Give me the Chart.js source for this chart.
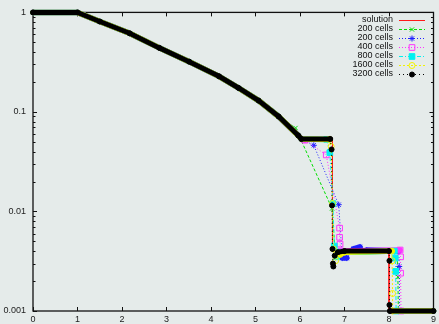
<!DOCTYPE html>
<html><head><meta charset="utf-8">
<script src="https://cdn.jsdelivr.net/npm/chart.js@4/dist/chart.umd.min.js"></script>
<style>html,body{margin:0;padding:0;background:#e5ebea;}canvas{display:block;}</style>
</head><body>
<canvas id="c" width="439" height="324"></canvas>
<script>
// Shared rarefaction part
const curveX = [0, 1.0, 1.5, 2.17, 2.84, 3.51, 4.18, 4.62, 5.07, 5.52, 5.96, 6.03];
const curveY = [1, 1, 0.81, 0.617, 0.44, 0.32, 0.228, 0.174, 0.13, 0.09, 0.058, 0.0535];

const solutionX = [6.73, 6.73, 8.0, 8.0, 9];
const solutionY = [0.0535, 0.0040, 0.0040, 0.001, 0.001];
const cells200aX = [5.90, 6.72, 6.78, 6.85, 7.0, 8.18, 8.2, 8.21, 9];
const cells200aY = [0.069, 0.0107, 0.0045, 0.0037, 0.0039, 0.0040, 0.0022, 0.001, 0.001];
const cells200bX = [6.31, 6.87, 6.95, 7.05, 7.2, 7.35, 7.5, 8.22, 8.23, 8.24, 9];
const cells200bY = [0.0462, 0.0117, 0.0034, 0.0034, 0.0042, 0.0044, 0.0041, 0.0040, 0.0028, 0.001, 0.001];
const cells400X = [6.11, 6.59, 6.89, 6.89, 6.9, 6.93, 8.25, 8.26, 8.26, 8.27, 9];
const cells400Y = [0.052, 0.037, 0.0068, 0.0055, 0.0047, 0.0040, 0.0041, 0.0035, 0.0024, 0.001, 0.001];
const cells800X = [6.6, 6.67, 6.74, 6.77, 6.82, 6.9, 8.12, 8.14, 8.15, 8.16, 9];
const cells800Y = [0.053, 0.039, 0.012, 0.0045, 0.0035, 0.0039, 0.0040, 0.0034, 0.0025, 0.001, 0.001];
const cells1600X = [6.66, 6.7, 6.73, 6.75, 6.8, 6.9, 7.0, 8.06, 8.07, 8.08, 8.08, 9];
const cells1600Y = [0.053, 0.045, 0.012, 0.0042, 0.0032, 0.0037, 0.0039, 0.0040, 0.0032, 0.0015, 0.001, 0.001];
const cells3200X = [6.68, 6.71, 6.72, 6.73, 6.74, 6.75, 6.78, 6.85, 7.0, 8.0, 8.01, 8.01, 8.02, 9];
const cells3200Y = [0.0535, 0.042, 0.0115, 0.0042, 0.0030, 0.0028, 0.0036, 0.0039, 0.0040, 0.0040, 0.0032, 0.00115, 0.001, 0.001];

const xTicks = [0, 1, 2, 3, 4, 5, 6, 7, 8, 9];
const yTicks = [0.001, 0.01, 0.1, 1];
const yTickLabels = ['0.001', '0.01', '0.1', '1'];
const seriesLabels = ['solution', '200 cells', '200 cells', '400 cells', '800 cells', '1600 cells', '3200 cells'];

function build(nCurve, tx, ty) {
  const pts = [];
  for (let i = 0; i < nCurve; i++) pts.push({x: curveX[i], y: curveY[i]});
  for (let i = 0; i < tx.length; i++) pts.push({x: tx[i], y: ty[i]});
  return pts;
}
function isThick(c, n) {
  if (c.p1DataIndex < n) return true;
  return Math.abs(c.p1.y - c.p0.y) < 3 && Math.abs(c.p1.x - c.p0.x) > 2;
}
function seg(n, w) {
  return {
    borderWidth: c => isThick(c, n) ? w : undefined,
    borderDash: c => isThick(c, n) ? [] : undefined,
    borderCapStyle: c => isThick(c, n) ? 'round' : undefined
  };
}
function mk(label, color, dash, nCurve, tx, ty, style, radius, filled, order, thickW, showAll) {
  const data = build(nCurve, tx, ty);
  return {
    label, data, order, borderColor: color, borderWidth: 1, borderDash: dash,
    pointStyle: style, pointBorderColor: color, pointBorderWidth: 1,
    pointBackgroundColor: filled ? color : 'rgba(0,0,0,0)',
    pointRadius: c => (showAll || (c.dataIndex >= nCurve && c.dataIndex < data.length - 1)) ? radius : 0,
    pointHoverRadius: 0, tension: 0, fill: false, clip: false,
    segment: thickW ? seg(nCurve, thickW) : undefined,
    _legendRadius: radius
  };
}

const datasets = [
  mk(seriesLabels[0], '#ff1a1a', [], 12, solutionX, solutionY, false, 0, false, 7, 0, false),
  mk(seriesLabels[1], '#00dd00', [3, 2], 10, cells200aX, cells200aY, 'crossRot', 3, false, 6, 5.5, false),
  mk(seriesLabels[2], '#2020ff', [1, 2], 12, cells200bX, cells200bY, 'star', 3, false, 5, 5.5, false),
  mk(seriesLabels[3], '#ff33ff', [1, 2], 12, cells400X, cells400Y, 'rect', 4, false, 4, 5.5, false),
  mk(seriesLabels[4], '#00f0f0', [4, 2, 1, 2], 12, cells800X, cells800Y, 'rect', 4, true, 3, 5.5, false),
  mk(seriesLabels[5], '#f2f200', [2, 2], 12, cells1600X, cells1600Y, 'circle', 3, false, 2, 5.5, false),
  mk(seriesLabels[6], '#000000', [1, 3], 12, cells3200X, cells3200Y, 'circle', 2.5, true, 1, 5, true)
];

const frame = {
  id: 'frame',
  beforeDatasetsDraw(chart) {
    const {ctx, chartArea: a, scales: {x, y}} = chart;
    ctx.save();
    ctx.strokeStyle = '#111';
    ctx.lineWidth = 1.3;
    ctx.strokeRect(a.left, a.top, a.right - a.left, a.bottom - a.top);
    ctx.lineWidth = 1;
    ctx.beginPath();
    for (let d = 0; d < yTicks.length; d++) {
      const base = yTicks[d];
      const py = Math.round(y.getPixelForValue(base)) + 0.5;
      ctx.moveTo(a.left, py); ctx.lineTo(a.left + 4, py);
      ctx.moveTo(a.right, py); ctx.lineTo(a.right - 4, py);
      if (d < yTicks.length - 1) {
        for (let m = 2; m <= 9; m++) {
          const pm = Math.round(y.getPixelForValue(base * m)) + 0.5;
          ctx.moveTo(a.left, pm); ctx.lineTo(a.left + 2.5, pm);
          ctx.moveTo(a.right, pm); ctx.lineTo(a.right - 2.5, pm);
        }
      }
    }
    xTicks.forEach(v => {
      const px = Math.round(x.getPixelForValue(v)) + 0.5;
      ctx.moveTo(px, a.bottom); ctx.lineTo(px, a.bottom - 4);
      ctx.moveTo(px, a.top); ctx.lineTo(px, a.top + 4);
    });
    ctx.stroke();
    ctx.restore();
  }
};

const legendPlugin = {
  id: 'lg',
  afterDraw(chart) {
    const ctx = chart.ctx;
    ctx.save();
    ctx.font = '9px "Liberation Sans", Arial, sans-serif';
    ctx.textAlign = 'right';
    ctx.textBaseline = 'middle';
    chart.data.datasets.forEach((ds, i) => {
      const y = 20 + 9 * i;
      ctx.fillStyle = '#111';
      ctx.fillText(ds.label, 393, y);
      ctx.strokeStyle = ds.borderColor;
      ctx.lineWidth = 1;
      ctx.setLineDash(ds.borderDash || []);
      ctx.beginPath(); ctx.moveTo(399, y + 0.5); ctx.lineTo(425, y + 0.5); ctx.stroke();
      ctx.setLineDash([]);
      if (ds.pointStyle && ds._legendRadius > 0) {
        ctx.fillStyle = ds.pointBackgroundColor;
        ctx.strokeStyle = ds.pointBorderColor;
        ctx.lineWidth = 1;
        Chart.helpers.drawPoint(ctx, {pointStyle: ds.pointStyle, radius: ds._legendRadius, borderWidth: 1, rotation: 0}, 412, y + 0.5);
      }
    });
    ctx.restore();
  }
};

new Chart(document.getElementById('c'), {
  type: 'line',
  data: {datasets},
  options: {
    responsive: false,
    animation: false,
    events: [],
    layout: {padding: {top: 10.7, right: 3, left: 0, bottom: 0}},
    plugins: {legend: {display: false}, tooltip: {enabled: false}},
    scales: {
      x: {
        type: 'linear', min: 0, max: 9,
        grid: {display: false, drawTicks: false}, border: {display: false},
        afterBuildTicks: s => { s.ticks = xTicks.map(v => ({value: v})); },
        ticks: {color: '#222', font: {family: '"Liberation Sans", Arial', size: 9}, padding: 3, maxRotation: 0, autoSkip: false},
        afterFit: s => { s.height = 13; }
      },
      y: {
        type: 'logarithmic', min: 0.001, max: 1,
        grid: {display: false, drawTicks: false}, border: {display: false},
        afterBuildTicks: s => { s.ticks = yTicks.map(v => ({value: v, major: true})); },
        ticks: {color: '#222', font: {family: '"Liberation Sans", Arial', size: 9}, padding: 7, autoSkip: false,
          callback: (v) => { const i = yTicks.indexOf(v); return i >= 0 ? yTickLabels[i] : ''; }},
        afterFit: s => { s.width = 33; }
      }
    }
  },
  plugins: [frame, legendPlugin]
});
</script>
</body></html>
